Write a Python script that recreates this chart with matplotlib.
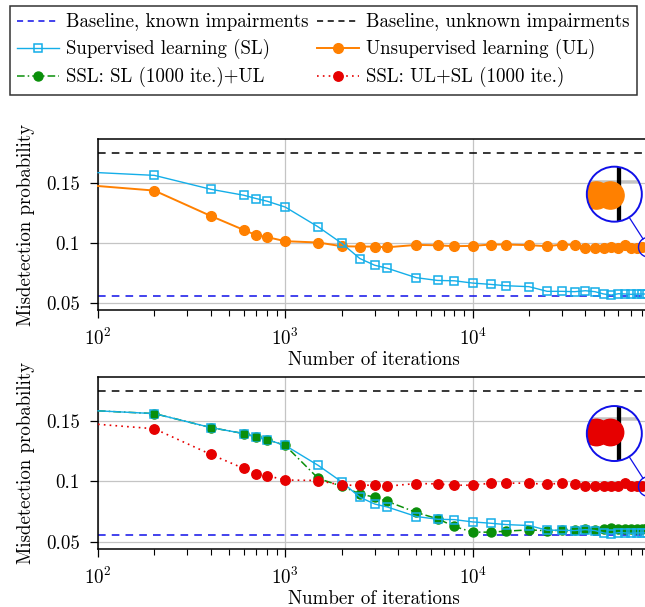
import numpy as np
import matplotlib
matplotlib.use("Agg")
import matplotlib.pyplot as plt
from matplotlib.lines import Line2D
from matplotlib.patches import Circle
from matplotlib.transforms import IdentityTransform
from matplotlib.ticker import FixedLocator, FixedFormatter, LogLocator, NullFormatter

plt.rcParams['font.family'] = 'serif'
plt.rcParams['font.serif'] = ['cmr10']
plt.rcParams['mathtext.fontset'] = 'cm'
plt.rcParams['axes.formatter.use_mathtext'] = True
plt.rcParams['font.size'] = 13.5

# ================= data =================
iterations = [100, 200, 400, 600, 700, 800, 1000, 1500, 2000, 2500, 3000, 3500,
              5000, 6500, 8000, 10000, 12500, 15000, 20000, 25000, 30000, 35000,
              40000, 45000, 50000, 55000, 60000, 65000, 70000, 75000, 80000, 85000]

sl = [0.1587, 0.1564, 0.1448, 0.1398, 0.1370, 0.1348, 0.1299, 0.1133, 0.0997,
      0.0869, 0.0813, 0.0788, 0.0709, 0.0686, 0.0683, 0.0664, 0.0653, 0.0642,
      0.0634, 0.0595, 0.0595, 0.0592, 0.0600, 0.0592, 0.0573, 0.0564, 0.0575,
      0.0573, 0.0570, 0.0572, 0.0573, 0.0572]

ul = [0.1475, 0.1437, 0.1225, 0.1108, 0.1064, 0.1048, 0.1014, 0.1003, 0.0972,
      0.0969, 0.0969, 0.0963, 0.0983, 0.0980, 0.0972, 0.0975, 0.0986, 0.0986,
      0.0981, 0.0972, 0.0986, 0.0983, 0.0961, 0.0961, 0.0961, 0.0964, 0.0961,
      0.0981, 0.0960, 0.0961, 0.0962, 0.0963]

ssl_sl_ul = [0.1587, 0.1564, 0.1448, 0.1398, 0.1370, 0.1348, 0.1299, 0.1025,
             0.0961, 0.0897, 0.0869, 0.0835, 0.0743, 0.0690, 0.0626, 0.0579,
             0.0579, 0.0587, 0.0598, 0.0590, 0.0595, 0.0598, 0.0604, 0.0595,
             0.0604, 0.0612, 0.0606, 0.0604, 0.0606, 0.0609, 0.0609, 0.0610]

ssl_ul_sl = [0.1475, 0.1438, 0.1225, 0.1108, 0.1064, 0.1048, 0.1012, 0.1008,
             0.0969, 0.0969, 0.0969, 0.0961, 0.0983, 0.0980, 0.0969, 0.0969,
             0.0986, 0.0986, 0.0986, 0.0975, 0.0988, 0.0983, 0.0963, 0.0961,
             0.0961, 0.0962, 0.0965, 0.0985, 0.0960, 0.0962, 0.0962, 0.0962]

baseline_known = 0.0555
baseline_unknown = 0.175

labels = ['Baseline, known impairments', 'Baseline, unknown impairments',
          'Supervised learning (SL)', 'Unsupervised learning (UL)',
          'SSL: SL (1000 ite.)+UL', 'SSL: UL+SL (1000 ite.)']

# ================= styles =================
C_SL = '#14AEE8'
C_UL = '#FF8000'
C_GREEN = '#0A8F0A'
C_RED = '#E60000'
C_BLUE = '#1010E8'

styles = {
    'sl': dict(color=C_SL, lw=1.0, marker='s', ms=5.5, mfc='none', mec=C_SL, mew=1.1),
    'ul': dict(color=C_UL, lw=1.4, marker='o', ms=7, mfc=C_UL, mec=C_UL),
    'green': dict(color=C_GREEN, lw=1.1, ls=(0, (5, 2, 1, 2)), marker='o', ms=6.5, mfc=C_GREEN, mec=C_GREEN),
    'red': dict(color=C_RED, lw=1.2, ls=(0, (1, 2.5)), marker='o', ms=6.8, mfc=C_RED, mec=C_RED),
}

W, H = 645, 607
fig = plt.figure(figsize=(W / 100, H / 100), dpi=100)

XMAX = 88500
FS = 13.6


def px_axes(left, top, right, bottom):
    return fig.add_axes([left / W, (H - bottom) / H, (right - left) / W, (bottom - top) / H])


ax1 = px_axes(98, 139, 650, 310)
ax2 = px_axes(98, 377, 650, 549)


def style_axes(ax):
    ax.set_xscale('log')
    ax.set_xlim(100, XMAX)
    ax.set_ylim(0.0439, 0.1868)
    ax.yaxis.set_major_locator(FixedLocator([0.05, 0.1, 0.15]))
    ax.yaxis.set_major_formatter(FixedFormatter(['0.05', '0.1', '0.15']))
    ax.xaxis.set_major_locator(LogLocator(base=10, numticks=10))
    ax.xaxis.set_minor_locator(LogLocator(base=10, subs=np.arange(2, 10), numticks=20))
    ax.xaxis.set_minor_formatter(NullFormatter())
    ax.grid(True, which='major', color='#c4c4c4', lw=0.9)
    ax.set_axisbelow(True)
    ax.tick_params(which='major', direction='out', length=6, width=0.9, labelsize=FS, pad=7)
    ax.tick_params(which='minor', direction='out', length=4, width=0.8)
    for s in ax.spines.values():
        s.set_linewidth(1.1)
    ax.set_ylabel('Misdetection probability', fontsize=FS, labelpad=8)
    ax.set_xlabel('Number of iterations', fontsize=FS, labelpad=1)
    ax.axhline(baseline_known, color=C_BLUE, lw=1.1, ls=(0, (5, 4)), zorder=2)
    ax.axhline(baseline_unknown, color='black', lw=1.1, ls=(0, (5, 4)), zorder=2)


style_axes(ax1)
style_axes(ax2)

mk = slice(1, None)
ax1.plot(iterations, ul, markevery=mk, zorder=3, clip_on=False, **styles['ul'])
ax1.plot(iterations, sl, markevery=mk, zorder=4, clip_on=False, **styles['sl'])

ax2.plot(iterations, ssl_sl_ul, markevery=mk, zorder=3, clip_on=False, **styles['green'])
ax2.plot(iterations, sl, markevery=mk, zorder=4, clip_on=False, **styles['sl'])
ax2.plot(iterations[:7], ssl_sl_ul[:7], lw=0, marker='s', ms=3.8, color=C_GREEN,
         markevery=mk, zorder=5)
ax2.plot(iterations, ssl_ul_sl, markevery=mk, zorder=5, clip_on=False, **styles['red'])


def magnifier(ax, xc, yc, series, off=(-34, 53), r_big=27.5, m=2.8):
    fig.canvas.draw()
    sx, sy = ax.transData.transform((xc, yc))
    bx, by = sx + off[0], sy + off[1]
    r_small = r_big / m
    dec_px = ax.transData.transform((1000, yc))[0] - ax.transData.transform((100, yc))[0]
    y_px = ax.transData.transform((xc, 0.1))[1] - ax.transData.transform((xc, 0.05))[1]
    ins = fig.add_axes([(bx - r_big) / W, (by - r_big) / H, 2 * r_big / W, 2 * r_big / H])
    ins.set_xscale('log')
    half = r_small / dec_px
    ins.set_xlim(xc * 10 ** (-half), xc * 10 ** half)
    hy = r_small / y_px * 0.05
    ins.set_ylim(yc - hy, yc + hy)
    ins.set_axis_off()
    clip = Circle((0.5, 0.5), 0.5, transform=ins.transAxes)
    bg = Circle((0.5, 0.5), 0.5, transform=ins.transAxes, fc='white', ec='none', zorder=0)
    ins.add_patch(bg)
    arts = []
    arts.append(ins.axhline(0.1, color='#c4c4c4', lw=0.9 * m, zorder=1))
    arts.append(ins.axvline(XMAX, color='black', lw=1.1 * m, zorder=2))
    for ys, st in series:
        st = dict(st)
        st['ms'] = st['ms'] * m
        st['lw'] = st['lw'] * m
        ln, = ins.plot(iterations, ys, zorder=3, **st)
        arts.append(ln)
    for a in arts:
        a.set_clip_path(clip)
    ring = Circle((0.5, 0.5), 0.5, transform=ins.transAxes, fc='none', ec=C_BLUE,
                  lw=1.4, zorder=10, clip_on=False)
    ins.add_patch(ring)
    fig.add_artist(Circle((sx, sy), r_small, transform=IdentityTransform(),
                          fc='none', ec=C_BLUE, lw=1.0, zorder=10))
    d = np.array([sx - bx, sy - by])
    u = d / np.hypot(*d)
    p0 = np.array([bx, by]) + u * r_big
    p1 = np.array([sx, sy]) - u * r_small
    fig.add_artist(Line2D([p0[0], p1[0]], [p0[1], p1[1]], transform=IdentityTransform(),
                          color=C_BLUE, lw=0.9, zorder=10))


magnifier(ax1, 86700, 0.0964, [(ul, styles['ul'])])
magnifier(ax2, 86700, 0.0958, [(ssl_ul_sl, styles['red'])])

# legend (matplotlib fills column by column, so reorder to get row-wise pairs)
handles = [
    Line2D([], [], color=C_BLUE, lw=1.1, ls=(0, (4, 3))),
    Line2D([], [], color='black', lw=1.1, ls=(0, (4, 3))),
    Line2D([], [], **styles['sl']),
    Line2D([], [], **styles['ul']),
    Line2D([], [], **styles['green']),
    Line2D([], [], **styles['red']),
]
order = [0, 2, 4, 1, 3, 5]
leg = fig.legend([handles[i] for i in order], [labels[i] for i in order],
                 ncol=2, loc='upper left',
                 bbox_to_anchor=(10 / W, 1 - 6 / H), fontsize=FS,
                 frameon=True, fancybox=False, edgecolor='black',
                 handlelength=2.2, handletextpad=0.4, columnspacing=0.45,
                 labelspacing=0.42, borderpad=0.38, borderaxespad=0)
leg.get_frame().set_linewidth(1.1)

fig.savefig('out.png', dpi=100)
